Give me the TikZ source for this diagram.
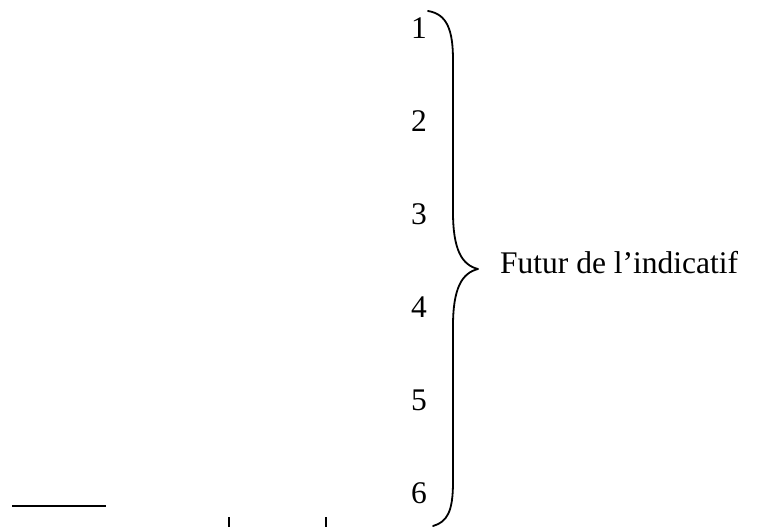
\documentclass[tikz,border=0pt]{standalone}
\usepackage{fontspec}
\setmainfont{Liberation Serif}

\tikzset{
	num/.style={inner sep=0pt, anchor=base, font=\fontsize{31.5}{38}\selectfont},
	lbl/.style={inner sep=0pt, anchor=base west, font=\fontsize{31.5}{38}\selectfont},
	bracestyle/.style={line width=1.8pt, line cap=round, line join=round},
	blank/.style={line width=1.3pt}
}

\begin{document}
\begin{tikzpicture}[x=1pt,y=-1pt]
	\useasboundingbox (0,0) rectangle (761,527);
	
	% numbers of the persons
	\foreach \n in {1,...,6}
		\node[num] (p\n) at (419,{39+92.8*(\n-1)}) {\n};
	
	\node[lbl] (futur) at (500,273) {Futur de l’indicatif};
	
	% the brace
	\coordinate (btop) at (428,11);
	\coordinate (bmid) at (478,269);
	\coordinate (bbot) at (433,526);
	\draw[bracestyle] (btop) .. controls (447,14) and (453,30) .. (453,60) -- (453,212)
		.. controls (453,250) and (462,265) .. (bmid)
		.. controls (462,273) and (453,288) .. (453,326) -- (453,482)
		.. controls (453,512) and (447,522) .. (bbot);
	
	% blanks at the bottom
	\coordinate (ba) at (12,506);
	\coordinate (bb) at (106,506);
	\draw[blank] (ba) -- (bb);
	\coordinate (ta) at (229,517);
	\coordinate (tb) at (229,527);
	\draw[blank] (ta) -- (tb);
	\coordinate (tc) at (326,517);
	\coordinate (td) at (326,527);
	\draw[blank] (tc) -- (td);
\end{tikzpicture}
\end{document}
